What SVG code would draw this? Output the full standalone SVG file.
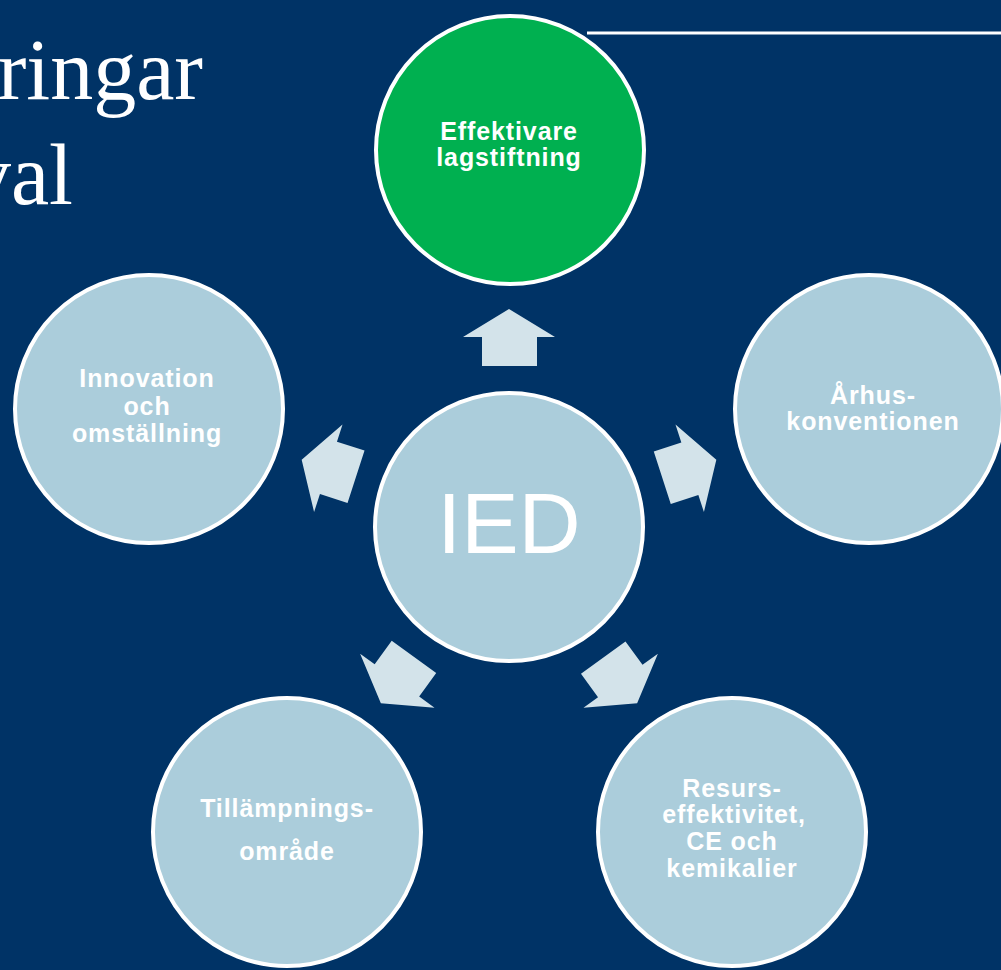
<svg xmlns="http://www.w3.org/2000/svg" width="1001" height="970" viewBox="0 0 1001 970">
<style>
.bg{fill:#003366}
.c{fill:#ABCDDB;stroke:#FFFFFF;stroke-width:4}
.g{fill:#00B050;stroke:#FFFFFF;stroke-width:4}
.a{fill:#D3E3EA}
.t{font-family:"Liberation Sans",Arial,sans-serif;font-weight:bold;font-size:25px;letter-spacing:0.9px;fill:#FFFFFF;text-anchor:middle}
.title{font-family:"Liberation Serif","Times New Roman",serif;font-size:86px;fill:#FFFFFF;text-anchor:end}
</style>
<defs>
<polygon id="arr" class="a" points="509,309 555,337 537,337 537,366 482,366 482,337 463,337"/>
</defs>
<rect class="bg" x="0" y="0" width="1001" height="970"/>
<g id="title">
<text class="title" x="203" y="99">ringar</text>
<text class="title" x="73" y="204">val</text>
</g>
<line x1="587" y1="33" x2="1001" y2="33" stroke="#FFFFFF" stroke-width="3"/>
<g id="connectors">
<use href="#arr"/>
<use href="#arr" transform="rotate(72 509 527)"/>
<use href="#arr" transform="rotate(144 509 527)"/>
<use href="#arr" transform="rotate(-144 509 527)"/>
<use href="#arr" transform="rotate(-72 509 527)"/>
</g>
<g id="node-ied">
<circle class="c" cx="509" cy="527" r="134"/>
<text x="509" y="553" font-family="Liberation Sans,Arial,sans-serif" font-size="86" fill="#FFFFFF" text-anchor="middle">IED</text>
</g>
<g id="node-top">
<circle class="g" cx="510" cy="150" r="134"/>
<text class="t" x="509" y="140">Effektivare</text>
<text class="t" x="509" y="166">lagstiftning</text>
</g>
<g id="node-left">
<circle class="c" cx="149" cy="409" r="134"/>
<text class="t" x="147" y="387">Innovation</text>
<text class="t" x="147" y="415">och</text>
<text class="t" x="147" y="442">omställning</text>
</g>
<g id="node-right">
<circle class="c" cx="869" cy="409" r="134"/>
<text class="t" x="873" y="404">Århus-</text>
<text class="t" x="873" y="430">konventionen</text>
</g>
<g id="node-bottom-left">
<circle class="c" cx="287" cy="832" r="134"/>
<text class="t" x="287" y="817">Tillämpnings-</text>
<text class="t" x="287" y="860">område</text>
</g>
<g id="node-bottom-right">
<circle class="c" cx="732" cy="832" r="134"/>
<text class="t" x="732" y="797">Resurs-</text>
<text class="t" x="734" y="823">effektivitet,</text>
<text class="t" x="732" y="850">CE och</text>
<text class="t" x="732" y="877">kemikalier</text>
</g>
</svg>
